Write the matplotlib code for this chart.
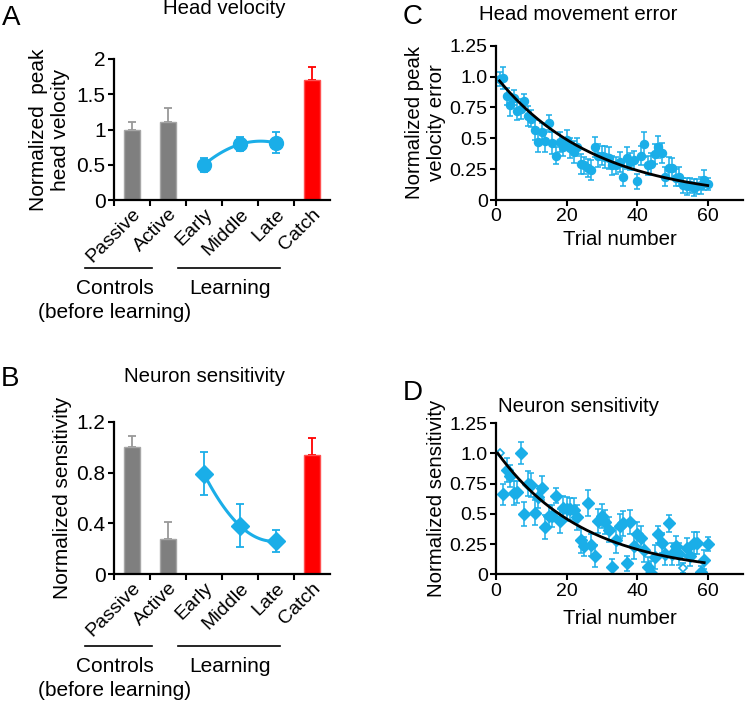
import numpy as np
import matplotlib
matplotlib.use("Agg")
import matplotlib.pyplot as plt

plt.rcParams['font.family'] = ['Liberation Sans', 'DejaVu Sans']

# ---------------- data ----------------
cats = ["Passive", "Active", "Early", "Middle", "Late", "Catch"]

# Panel A: head velocity
a_ctrl_vals = [1.00, 1.10]
a_ctrl_err = [0.10, 0.20]
a_learn_vals = [0.50, 0.79, 0.81]
a_learn_err = [0.10, 0.10, 0.15]
a_catch_val = 1.70
a_catch_err = 0.19

# Panel B: neuron sensitivity
b_ctrl_vals = [1.00, 0.28]
b_ctrl_err = [0.09, 0.13]
b_learn_vals = [0.79, 0.38, 0.26]
b_learn_err = [0.17, 0.17, 0.085]
b_catch_val = 0.94
b_catch_err = 0.13

# Panel C: head movement error per trial
c_trials = list(range(1, 61))
c_vals = [0.98, 0.99, 0.84, 0.77, 0.83, 0.72, 0.74, 0.80, 0.68, 0.66,
          0.57, 0.47, 0.55, 0.48, 0.62, 0.46, 0.36, 0.47, 0.43, 0.49,
          0.42, 0.39, 0.43, 0.29, 0.28, 0.26, 0.24, 0.43, 0.36, 0.36,
          0.35, 0.34, 0.28, 0.28, 0.31, 0.19, 0.34, 0.31, 0.32, 0.15,
          0.36, 0.45, 0.28, 0.29, 0.37, 0.43, 0.38, 0.19, 0.26, 0.26,
          0.18, 0.19, 0.12, 0.11, 0.12, 0.10, 0.11, 0.12, 0.16, 0.13]
c_err = [0.06, 0.09, 0.07, 0.09, 0.06, 0.07, 0.08, 0.06, 0.08, 0.07,
         0.08, 0.08, 0.07, 0.09, 0.07, 0.09, 0.07, 0.08, 0.07, 0.08,
         0.08, 0.09, 0.07, 0.08, 0.07, 0.07, 0.08, 0.08, 0.09, 0.08,
         0.09, 0.09, 0.08, 0.07, 0.08, 0.08, 0.09, 0.07, 0.08, 0.06,
         0.08, 0.10, 0.08, 0.09, 0.08, 0.09, 0.08, 0.08, 0.09, 0.08,
         0.07, 0.08, 0.06, 0.07, 0.06, 0.07, 0.06, 0.07, 0.08, 0.05]
c_fit_amp = 1.0
c_fit_tau = 28.0

# Panel D: neuron sensitivity per trial
d_trials = list(range(1, 61))
d_vals = [1.00, 0.66, 0.86, 0.81, 0.67, 0.68, 1.00, 0.50, 0.75, 0.74,
          0.51, 0.64, 0.71, 0.39, 0.48, 0.48, 0.65, 0.44, 0.55, 0.54,
          0.54, 0.53, 0.47, 0.28, 0.23, 0.59, 0.24, 0.15, 0.44, 0.48,
          0.43, 0.37, 0.06, 0.28, 0.40, 0.42, 0.09, 0.43, 0.23, 0.33,
          0.30, 0.20, 0.06, 0.01, 0.14, 0.33, 0.26, 0.17, 0.42, 0.17,
          0.23, 0.17, 0.05, 0.22, 0.15, 0.26, 0.26, 0.02, 0.12, 0.25]
d_err = [0.00, 0.09, 0.10, 0.09, 0.10, 0.09, 0.09, 0.10, 0.10, 0.10,
         0.10, 0.09, 0.10, 0.10, 0.09, 0.09, 0.06, 0.10, 0.10, 0.10,
         0.09, 0.10, 0.10, 0.10, 0.08, 0.11, 0.09, 0.09, 0.10, 0.10,
         0.10, 0.10, 0.07, 0.10, 0.10, 0.10, 0.06, 0.10, 0.10, 0.10,
         0.10, 0.10, 0.08, 0.10, 0.10, 0.07, 0.08, 0.09, 0.07, 0.09,
         0.09, 0.09, 0.04, 0.08, 0.08, 0.09, 0.09, 0.05, 0.08, 0.06]
d_hollow = [1, 53]
d_fit_amp = 1.02
d_fit_tau = 25.0

# ---------------- style ----------------
BLUE = '#1aaee8'
GRAY = '#7f7f7f'
GRAY_EDGE = '#a6a6a6'
RED = '#ff0000'
FS_AB = 15.0       # text of the left panels
FS_CAT = 14.0
FS_CD_TICK = 14.0
FS_CD_LAB = 14.7
FS_TITLE = 14.7

fig = plt.figure(figsize=(7.47, 7.03), dpi=100)
W, H = 747.0, 703.0

def add_ax(x0, y_top, x1, y_bot):
    return fig.add_axes([x0 / W, 1 - y_bot / H, (x1 - x0) / W, (y_bot - y_top) / H])

def style(ax, fs):
    for s in ['top', 'right']:
        ax.spines[s].set_visible(False)
    for s in ['left', 'bottom']:
        ax.spines[s].set_linewidth(1.6)
    ax.tick_params(axis='both', direction='out', length=4, width=1.5,
                   labelsize=fs, pad=2)

def bar_panel(ax, ctrl, ctrl_err, learn, learn_err, catch, catch_err, marker, msize):
    xs = np.arange(1, 7)
    ax.bar(xs[:2], ctrl, width=0.42, color=GRAY, edgecolor=GRAY_EDGE, linewidth=1.0, zorder=2)
    ax.errorbar(xs[:2], ctrl, yerr=[np.zeros(2), ctrl_err], fmt='none',
                ecolor='#999999', elinewidth=1.3, capsize=3, capthick=1.3, zorder=1)
    ax.bar([xs[5]], [catch], width=0.42, color=RED, edgecolor='#ff5050', linewidth=1.0, zorder=2)
    ax.errorbar([xs[5]], [catch], yerr=[[0], [catch_err]], fmt='none',
                ecolor=RED, elinewidth=1.3, capsize=3, capthick=1.3, zorder=1)
    lx = xs[2:5]
    coef = np.polyfit(lx, learn, 2)
    xx = np.linspace(lx[0], lx[-1], 100)
    ax.plot(xx, np.polyval(coef, xx), color=BLUE, lw=2.2, zorder=3)
    ax.errorbar(lx, learn, yerr=learn_err, fmt=marker, color=BLUE, ms=msize,
                ecolor=BLUE, elinewidth=1.3, capsize=3, capthick=1.3, zorder=4)
    ax.set_xlim(0.5, 6.5)
    ax.set_xticks(np.arange(0.5, 6.0, 1.0))
    ax.set_xticklabels([])
    ax.set_xticks(xs, minor=True)
    ax.set_xticklabels(cats, minor=True, rotation=45, ha='right',
                       rotation_mode='anchor', fontsize=FS_CAT)
    ax.tick_params(axis='x', which='minor', length=0, pad=4)
    ax.tick_params(axis='x', which='major', length=4, width=1.5)

# ---------------- Panel A ----------------
axA = add_ax(114, 59, 330, 200)
style(axA, FS_AB)
bar_panel(axA, a_ctrl_vals, a_ctrl_err, a_learn_vals, a_learn_err,
          a_catch_val, a_catch_err, 'o', 10)
axA.set_ylim(0, 2)
axA.set_yticks([0, 0.5, 1, 1.5, 2])
axA.set_yticklabels(['0', '0.5', '1', '1.5', '2'])
axA.set_ylabel('Normalized  peak\nhead velocity', fontsize=FS_AB, linespacing=1.15, labelpad=5)

# ---------------- Panel B ----------------
axB = add_ax(114, 422, 330, 574)
style(axB, FS_AB)
bar_panel(axB, b_ctrl_vals, b_ctrl_err, b_learn_vals, b_learn_err,
          b_catch_val, b_catch_err, 'D', 9)
axB.set_ylim(0, 1.2)
axB.set_yticks([0, 0.4, 0.8, 1.2])
axB.set_yticklabels(['0', '0.4', '0.8', '1.2'])
axB.set_ylabel('Normalized sensitivity', fontsize=FS_AB, labelpad=3)

# group annotations
def groups(y_line, y_t1, y_t2):
    fig.add_artist(plt.Line2D([85 / W, 152 / W], [1 - y_line / H] * 2, color='black', lw=1.2))
    fig.add_artist(plt.Line2D([178 / W, 280 / W], [1 - y_line / H] * 2, color='black', lw=1.2))
    fig.text(115 / W, 1 - y_t1 / H, 'Controls', ha='center', va='center', fontsize=FS_AB)
    fig.text(115 / W, 1 - y_t2 / H, '(before learning)', ha='center', va='center', fontsize=FS_AB)
    fig.text(230 / W, 1 - y_t1 / H, 'Learning', ha='center', va='center', fontsize=FS_AB)

groups(268, 289, 312)
groups(646, 667, 690)

# ---------------- Panel C ----------------
axC = add_ax(496, 45.7, 743, 200)
style(axC, FS_CD_TICK)
axC.errorbar(c_trials, c_vals, yerr=c_err, fmt='o', color=BLUE, ms=5.8,
             ecolor=BLUE, elinewidth=1.1, capsize=2.5, capthick=1.1, zorder=2)
tc = np.linspace(c_trials[0], c_trials[-1], 200)
axC.plot(tc, c_fit_amp * np.exp(-tc / c_fit_tau), color='black', lw=2.0, zorder=3)
axC.set_xlim(0, 70)
axC.set_ylim(0, 1.25)
axC.set_xticks([0, 20, 40, 60])
axC.set_yticks([0, 0.25, 0.5, 0.75, 1.0, 1.25])
axC.set_yticklabels(['0', '0.25', '0.5', '0.75', '1.0', '1.25'])
axC.set_xlabel('Trial number', fontsize=FS_CD_LAB, labelpad=3)
axC.set_ylabel('Normalized peak\nvelocity error', fontsize=FS_CD_LAB, linespacing=1.2, labelpad=3)

# ---------------- Panel D ----------------
axD = add_ax(496, 423, 743, 574.3)
style(axD, FS_CD_TICK)
d_t = np.array(d_trials)
d_v = np.array(d_vals)
d_e = np.array(d_err)
hol = np.isin(d_t, d_hollow)
axD.errorbar(d_t[~hol], d_v[~hol], yerr=d_e[~hol], fmt='D', color=BLUE, ms=6.5,
             ecolor=BLUE, elinewidth=1.1, capsize=2.5, capthick=1.1, zorder=2)
axD.errorbar(d_t[hol], d_v[hol], yerr=d_e[hol], fmt='D', color=BLUE, ms=4,
             mfc='white', mec=BLUE, mew=1.2,
             ecolor=BLUE, elinewidth=1.1, capsize=2.5, capthick=1.1, zorder=2)
td = np.linspace(0.5, 59, 200)
axD.plot(td, d_fit_amp * np.exp(-td / d_fit_tau), color='black', lw=2.0, zorder=3)
axD.set_xlim(0, 70)
axD.set_ylim(0, 1.25)
axD.set_xticks([0, 20, 40, 60])
axD.set_yticks([0, 0.25, 0.5, 0.75, 1.0, 1.25])
axD.set_yticklabels(['0', '0.25', '0.5', '0.75', '1.0', '1.25'])
axD.set_xlabel('Trial number', fontsize=FS_CD_LAB, labelpad=7)
axD.set_ylabel('Normalized sensitivity', fontsize=FS_CD_LAB, labelpad=3)

# ---------------- titles and panel letters ----------------
fig.text(224 / W, 1 - 9 / H, 'Head velocity', ha='center', va='center', fontsize=FS_TITLE)
fig.text(204 / W, 1 - 376 / H, 'Neuron sensitivity', ha='center', va='center', fontsize=FS_TITLE)
fig.text(578 / W, 1 - 14 / H, 'Head movement error', ha='center', va='center', fontsize=FS_TITLE)
fig.text(578 / W, 1 - 407 / H, 'Neuron sensitivity', ha='center', va='center', fontsize=FS_TITLE)

for lab, x, y in [('A', 11, 18), ('B', 10, 379), ('C', 413, 17), ('D', 413, 393)]:
    fig.text(x / W, 1 - y / H, lab, ha='center', va='center', fontsize=20)

fig.savefig('out.png', dpi=100)
